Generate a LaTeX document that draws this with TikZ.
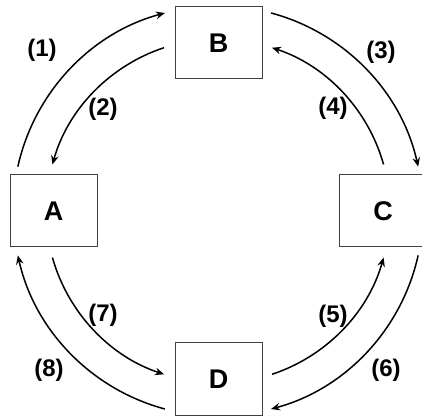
\documentclass[tikz,border=0pt]{standalone}
\usepackage{fontspec}
\setmainfont{Liberation Sans}
\usetikzlibrary{arrows.meta}
\tikzset{
  box/.style={draw=black!75, line width=1pt, minimum width=87pt, minimum height=72pt, inner sep=0pt, font=\fontsize{27}{27}\selectfont\bfseries},
  lab/.style={inner sep=0pt, font=\fontsize{24}{24}\selectfont\bfseries},
  arr/.style={line width=1.5pt, -{Stealth[length=9pt,width=7.5pt,inset=3pt]}}
}
\begin{document}
\begin{tikzpicture}[x=1pt,y=1pt]
\useasboundingbox (0,0) rectangle (422,417);
\coordinate (o) at (218,206);
\node[box] (A) at (53.5,206) {A};
\node[box] (B) at (218.5,374) {B};
\node[box] (C) at (383,206) {C};
\node[box] (D) at (218.5,38) {D};
% start points of arcs
\coordinate (s1) at ([shift={(167.5:205pt)}]o);
\coordinate (s2) at ([shift={(108.3:172pt)}]o);
\coordinate (s3) at ([shift={(75:205pt)}]o);
\coordinate (s4) at ([shift={(15.7:172pt)}]o);
\coordinate (s5) at ([shift={(-71.7:172pt)}]o);
\coordinate (s6) at ([shift={(-12.5:205pt)}]o);
\coordinate (s7) at ([shift={(195.7:172pt)}]o);
\coordinate (s8) at ([shift={(255:205pt)}]o);
\draw[arr] (s1) arc[start angle=167.5, end angle=105, radius=205pt];
\draw[arr] (s2) arc[start angle=108.3, end angle=164.3, radius=172pt];
\draw[arr] (s3) arc[start angle=75, end angle=12.5, radius=205pt];
\draw[arr] (s4) arc[start angle=15.7, end angle=71.7, radius=172pt];
\draw[arr] (s5) arc[start angle=-71.7, end angle=-15.7, radius=172pt];
\draw[arr] (s6) arc[start angle=-12.5, end angle=-75, radius=205pt];
\draw[arr] (s7) arc[start angle=195.7, end angle=251.7, radius=172pt];
\draw[arr] (s8) arc[start angle=255, end angle=192.5, radius=205pt];
\node[lab] (l1) at (42,367) {(1)};
\node[lab] (l2) at (103,308) {(2)};
\node[lab] (l3) at (381,365) {(3)};
\node[lab] (l4) at (333,309) {(4)};
\node[lab] (l5) at (333,101) {(5)};
\node[lab] (l6) at (386,47) {(6)};
\node[lab] (l7) at (103,102) {(7)};
\node[lab] (l8) at (49,47) {(8)};
\end{tikzpicture}
\end{document}
